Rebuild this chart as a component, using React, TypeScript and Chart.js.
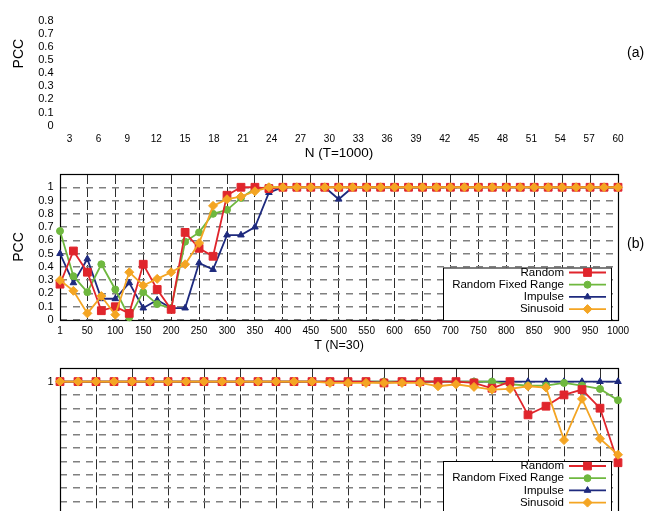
import React, { useEffect, useRef } from 'react';
import { Chart, registerables } from 'chart.js';

Chart.register(...registerables);

const FONT = "'Liberation Sans', Arial, Helvetica, sans-serif";

// ---------- series meta ----------
const seriesNames = ['Random', 'Random Fixed Range', 'Impulse', 'Sinusoid'];
const seriesColors = ['#e0252c', '#6fb83f', '#1e2a7e', '#f4a523'];
const seriesMarkers = ['rect', 'circle', 'triangle', 'rectRot'];
const seriesRadius = [5.5, 3.5, 3.8, 4.5];
const seriesOrder = [1, 2, 3, 0];

// ---------- panel (a) ----------
const aXTicks = [3, 6, 9, 12, 15, 18, 21, 24, 27, 30, 33, 36, 39, 42, 45, 48, 51, 54, 57, 60];
const aYTicks = [0, 0.1, 0.2, 0.3, 0.4, 0.5, 0.6, 0.7, 0.8];

// ---------- panel (b) ----------
const bT = [1, 25, 50, 75, 100, 125, 150, 175, 200, 225, 250, 275, 300, 325, 350, 375, 400, 425, 450, 475, 500,
  525, 550, 575, 600, 625, 650, 675, 700, 725, 750, 775, 800, 825, 850, 875, 900, 925, 950, 975, 1000];
const bXTicks = [1, 50, 100, 150, 200, 250, 300, 350, 400, 450, 500, 550, 600, 650, 700, 750, 800, 850, 900, 950, 1000];
const bYTicks = [0, 0.1, 0.2, 0.3, 0.4, 0.5, 0.6, 0.7, 0.8, 0.9, 1];
const bRandom = [0.27, 0.52, 0.36, 0.07, 0.10, 0.05, 0.42, 0.23, 0.08, 0.66, 0.54, 0.48, 0.94, 1.0, 1.0, 0.99,
  1, 1, 1, 1, 1, 1, 1, 1, 1, 1, 1, 1, 1, 1, 1, 1, 1, 1, 1, 1, 1, 1, 1, 1, 1];
const bRandomFixed = [0.67, 0.33, 0.21, 0.42, 0.23, 0.02, 0.21, 0.12, 0.09, 0.59, 0.66, 0.80, 0.83, 0.92, 0.99, 1.0,
  1, 1, 1, 1, 1, 1, 1, 1, 1, 1, 1, 1, 1, 1, 1, 1, 1, 1, 1, 1, 1, 1, 1, 1, 1];
const bImpulse = [0.50, 0.28, 0.46, 0.16, 0.16, 0.28, 0.09, 0.15, 0.09, 0.09, 0.43, 0.38, 0.64, 0.64, 0.70, 0.96,
  1, 1, 1, 1, 0.91, 1, 1, 1, 1, 1, 1, 1, 1, 1, 1, 1, 1, 1, 1, 1, 1, 1, 1, 1, 1];
const bSinusoid = [0.30, 0.22, 0.05, 0.18, 0.04, 0.36, 0.26, 0.31, 0.36, 0.42, 0.58, 0.86, 0.91, 0.93, 0.97, 1.0,
  1, 1, 1, 1, 1, 1, 1, 1, 1, 1, 1, 1, 1, 1, 1, 1, 1, 1, 1, 1, 1, 1, 1, 1, 1];

// ---------- panel (c) ----------
const cX = [0, 1, 2, 3, 4, 5, 6, 7, 8, 9, 10, 11, 12, 13, 14, 15, 16, 17, 18, 19, 20, 21, 22, 23, 24, 25, 26, 27, 28, 29, 30, 31];
const cXTicks = [0, 2, 4, 6, 8, 10, 12, 14, 16, 18, 20, 22, 24, 26, 28, 30];
const cYTicks = [0, 0.1, 0.2, 0.3, 0.4, 0.5, 0.6, 0.7, 0.8, 0.9, 1];
const cYLabels = ['', '', '', '', '', '', '', '', '', '', '1'];
const cRandom = [1, 1, 1, 1, 1, 1, 1, 1, 1, 1, 1, 1, 1, 1, 1, 1, 1, 1, 0.99, 1, 1, 1, 1, 0.99, 0.95, 1.0,
  0.75, 0.815, 0.90, 0.94, 0.80, 0.39];
const cRandomFixed = [1, 1, 1, 1, 1, 1, 1, 1, 1, 1, 1, 1, 1, 1, 1, 1, 1, 1, 1, 1, 1, 1, 1, 1, 1, 0.98,
  0.97, 0.97, 0.99, 0.97, 0.945, 0.86];
const cImpulse = [1, 1, 1, 1, 1, 1, 1, 1, 1, 1, 1, 1, 1, 1, 1, 1, 1, 1, 1, 1, 1, 1, 1, 1, 1, 1, 1, 1, 1, 1, 1, 1];
const cSinusoid = [1, 1, 1, 1, 1, 1, 1, 1, 1, 1, 1, 1, 1, 1, 1, 0.99, 0.99, 0.99, 0.99, 0.99, 0.99, 0.965, 0.98, 0.96,
  0.94, 0.945, 0.965, 0.955, 0.56, 0.87, 0.57, 0.45];

// ---------- helpers ----------
function makeDatasets(xs: number[], series: number[][]) {
  return series.map((vals, i) => ({
    label: seriesNames[i],
    data: xs.map((x, j) => ({ x, y: vals[j] })),
    borderColor: seriesColors[i],
    backgroundColor: seriesColors[i],
    pointBackgroundColor: seriesColors[i],
    pointBorderColor: seriesColors[i],
    pointStyle: seriesMarkers[i],
    pointRadius: seriesRadius[i],
    pointBorderWidth: 1,
    borderWidth: 1.8,
    tension: 0,
    order: seriesOrder[i],
    clip: false,
  }));
}

function drawMarker(ctx: CanvasRenderingContext2D, style: string, x: number, y: number, r: number, color: string) {
  ctx.save();
  ctx.fillStyle = color;
  ctx.strokeStyle = color;
  ctx.lineWidth = 1;
  ctx.beginPath();
  if (style === 'rect') {
    const s = r * Math.SQRT1_2;
    ctx.rect(x - s, y - s, 2 * s, 2 * s);
  } else if (style === 'circle') {
    ctx.arc(x, y, r, 0, Math.PI * 2);
  } else if (style === 'triangle') {
    const side = (3 * r) / Math.sqrt(3);
    const h = (side * Math.sqrt(3)) / 2;
    ctx.moveTo(x, y - (2 * h) / 3);
    ctx.lineTo(x + side / 2, y + h / 3);
    ctx.lineTo(x - side / 2, y + h / 3);
    ctx.closePath();
  } else {
    ctx.moveTo(x, y - r);
    ctx.lineTo(x + r, y);
    ctx.lineTo(x, y + r);
    ctx.lineTo(x - r, y);
    ctx.closePath();
  }
  ctx.fill();
  ctx.stroke();
  ctx.restore();
}

const framePlugin = {
  id: 'frame',
  beforeDatasetsDraw(chart: any, _args: any, opts: any) {
    if (!opts || !opts.show) return;
    const { ctx, chartArea: a } = chart;
    ctx.save();
    ctx.strokeStyle = '#000';
    ctx.lineWidth = 1.2;
    ctx.strokeRect(Math.round(a.left) + 0.5, Math.round(a.top) + 0.5, Math.round(a.right - a.left), Math.round(a.bottom - a.top));
    ctx.restore();
  },
};

const insetLegendPlugin = {
  id: 'insetLegend',
  afterDatasetsDraw(chart: any, _args: any, o: any) {
    if (!o || !o.show) return;
    const ctx: CanvasRenderingContext2D = chart.ctx;
    const off = o.pageTop;
    ctx.save();
    ctx.fillStyle = '#fff';
    ctx.fillRect(o.left, o.top - off, o.right - o.left, o.bottom - o.top);
    ctx.strokeStyle = '#000';
    ctx.lineWidth = 1;
    ctx.strokeRect(o.left + 0.5, o.top - off + 0.5, o.right - o.left, o.bottom - o.top);
    ctx.font = `11.5px ${FONT}`;
    ctx.textAlign = 'right';
    ctx.textBaseline = 'middle';
    chart.data.datasets.forEach((ds: any, i: number) => {
      const y = o.row0 + i * o.rowStep - off;
      ctx.fillStyle = '#000';
      ctx.fillText(ds.label, o.textRight, y);
      ctx.strokeStyle = ds.borderColor;
      ctx.lineWidth = ds.borderWidth;
      ctx.beginPath();
      ctx.moveTo(o.sampleLeft, y);
      ctx.lineTo(o.sampleRight, y);
      ctx.stroke();
      drawMarker(ctx, ds.pointStyle, (o.sampleLeft + o.sampleRight) / 2, y, ds.pointRadius, ds.borderColor);
    });
    ctx.restore();
  },
};

const panelLabelPlugin = {
  id: 'panelLabel',
  afterDraw(chart: any, _args: any, o: any) {
    if (!o || !o.text) return;
    const ctx: CanvasRenderingContext2D = chart.ctx;
    ctx.save();
    ctx.font = `14px ${FONT}`;
    ctx.fillStyle = '#000';
    ctx.textAlign = 'left';
    ctx.textBaseline = 'middle';
    ctx.fillText(o.text, o.x, o.y - o.pageTop);
    ctx.restore();
  },
};

const xTickFont = { family: FONT, size: 10 };
const yTickFont = { family: FONT, size: 11 };

function fixedTicks(values: number[]) {
  return (scale: any) => {
    scale.ticks = values.map((v) => ({ value: v }));
  };
}

const xGrid = { display: true, color: '#2e2e2e', lineWidth: 1, drawTicks: false };
const yGrid = { display: true, color: '#808080', lineWidth: 1.4, drawTicks: false };

// ---------- configs ----------
const A_TOP = -40;
const B_TOP = 150;
const C_TOP = 344;

function configA(): any {
  return {
    type: 'line',
    data: { datasets: [] },
    plugins: [panelLabelPlugin],
    options: {
      responsive: false,
      animation: false,
      events: [],
      layout: { padding: { top: 21.6, right: 27, left: 0, bottom: 0 } },
      plugins: {
        legend: { display: false },
        tooltip: { enabled: false },
        panelLabel: { text: '(a)', x: 627, y: 53, pageTop: A_TOP },
      },
      scales: {
        x: {
          type: 'linear',
          min: 2,
          max: 60,
          afterBuildTicks: fixedTicks(aXTicks),
          afterFit: (s: any) => { s.height = 44.4; },
          grid: { display: false, drawTicks: false },
          border: { display: false },
          ticks: { font: xTickFont, color: '#000', padding: 7.5, maxRotation: 0, autoSkip: false, callback: (v: any) => String(v) },
          title: { display: true, text: 'N (T=1000)', color: '#000', font: { family: FONT, size: 13.5 }, padding: { top: 0, bottom: 8.7 } },
        },
        y: {
          type: 'linear',
          min: 0,
          max: 1.1,
          afterBuildTicks: fixedTicks(aYTicks),
          afterFit: (s: any) => { s.width = 60; },
          grid: { display: false, drawTicks: false },
          border: { display: false },
          ticks: { font: yTickFont, color: '#000', padding: 6.5, autoSkip: false, callback: (v: any) => String(v) },
          title: { display: true, text: 'PCC', color: '#000', font: { family: FONT, size: 14 }, padding: { top: 10.6, bottom: 0 } },
        },
      },
    },
  };
}

function configB(): any {
  return {
    type: 'line',
    data: { datasets: makeDatasets(bT, [bRandom, bRandomFixed, bImpulse, bSinusoid]) },
    plugins: [framePlugin, insetLegendPlugin, panelLabelPlugin],
    options: {
      responsive: false,
      animation: false,
      events: [],
      layout: { padding: { top: 24, right: 27, left: 0, bottom: 0 } },
      plugins: {
        legend: { display: false },
        tooltip: { enabled: false },
        frame: { show: true },
        insetLegend: {
          show: true, pageTop: B_TOP, left: 443, right: 611, top: 267.5, bottom: 320,
          textRight: 564, sampleLeft: 569, sampleRight: 606, row0: 272.5, rowStep: 12.2,
        },
        panelLabel: { text: '(b)', x: 627, y: 244, pageTop: B_TOP },
      },
      scales: {
        x: {
          type: 'linear',
          min: 1,
          max: 1000,
          afterBuildTicks: fixedTicks(bXTicks),
          afterFit: (s: any) => { s.height = 40; },
          grid: xGrid,
          border: { display: false, dash: [10, 3] },
          ticks: { font: xTickFont, color: '#000', padding: 5.5, maxRotation: 0, autoSkip: false, callback: (v: any) => String(v) },
          title: { display: true, text: 'T (N=30)', color: '#000', font: { family: FONT, size: 12.5 }, padding: { top: 0, bottom: 7.1 } },
        },
        y: {
          type: 'linear',
          min: 0,
          max: 1.1,
          afterBuildTicks: fixedTicks(bYTicks),
          afterFit: (s: any) => { s.width = 60; },
          grid: yGrid,
          border: { display: false, dash: [7, 6] },
          ticks: { font: yTickFont, color: '#000', padding: 6.5, autoSkip: false, callback: (v: any) => String(v) },
          title: { display: true, text: 'PCC', color: '#000', font: { family: FONT, size: 14 }, padding: { top: 10.6, bottom: 0 } },
        },
      },
    },
  };
}

function configC(): any {
  return {
    type: 'line',
    data: { datasets: makeDatasets(cX, [cRandom, cRandomFixed, cImpulse, cSinusoid]) },
    plugins: [framePlugin, insetLegendPlugin],
    options: {
      responsive: false,
      animation: false,
      events: [],
      layout: { padding: { top: 24.3, right: 27, left: 0, bottom: 0 } },
      plugins: {
        legend: { display: false },
        tooltip: { enabled: false },
        frame: { show: true },
        insetLegend: {
          show: true, pageTop: C_TOP, left: 443, right: 611, top: 461, bottom: 560,
          textRight: 564, sampleLeft: 569, sampleRight: 606, row0: 466, rowStep: 12.2,
        },
      },
      scales: {
        x: {
          type: 'linear',
          min: 0,
          max: 31,
          afterBuildTicks: fixedTicks(cXTicks),
          afterFit: (s: any) => { s.height = 29.4; },
          grid: xGrid,
          border: { display: false, dash: [10, 3] },
          ticks: { display: false },
        },
        y: {
          type: 'linear',
          min: 0,
          max: 1.1,
          afterBuildTicks: fixedTicks(cYTicks),
          afterFit: (s: any) => { s.width = 60; },
          grid: yGrid,
          border: { display: false, dash: [7, 6] },
          ticks: {
            font: yTickFont, color: '#000', padding: 6.5, autoSkip: false,
            callback: (_v: any, i: number) => cYLabels[i],
          },
        },
      },
    },
  };
}

function ChartCanvas({ top, height, make }: { top: number; height: number; make: () => any }) {
  const ref = useRef<HTMLCanvasElement | null>(null);
  useEffect(() => {
    if (!ref.current) return;
    const chart = new Chart(ref.current, make());
    return () => chart.destroy();
  }, [make]);
  return (
    <canvas
      ref={ref}
      width={645}
      height={height}
      style={{ position: 'absolute', left: 0, top, width: 645, height, display: 'block' }}
    />
  );
}

export default function App() {
  return (
    <div style={{ position: 'fixed', left: 0, top: 0, width: 645, height: 511, overflow: 'hidden', background: '#fff' }}>
      <ChartCanvas top={A_TOP} height={210} make={configA} />
      <ChartCanvas top={B_TOP} height={210} make={configB} />
      <ChartCanvas top={C_TOP} height={200} make={configC} />
    </div>
  );
}
